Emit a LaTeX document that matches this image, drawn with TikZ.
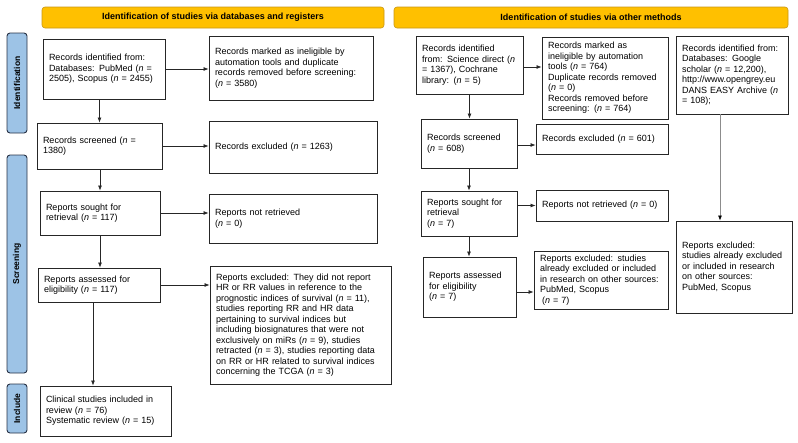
\documentclass[tikz,border=0pt]{standalone}
\usepackage{fontspec}
\setmainfont{Liberation Sans}
\usepackage{tikz}
\usetikzlibrary{arrows.meta,calc,positioning}
\definecolor{BannerGold}{RGB}{255,192,0}
\definecolor{BannerEdge}{RGB}{200,150,20}
\definecolor{PhaseBlue}{RGB}{157,195,230}
\definecolor{PhaseEdge}{RGB}{40,50,70}
\newcommand{\enn}{\textit{n}}

\begin{document}
\begin{tikzpicture}[x=1pt,y=-1pt,
  box/.style={draw=black!85,line width=0.9pt,inner xsep=6pt,inner ysep=2pt,
    align=left,font=\fontsize{9}{10.5}\selectfont},
  banner/.style={draw=BannerEdge,fill=BannerGold,rounded corners=3pt,line width=0.6pt,
    minimum height=21pt,font=\fontsize{9}{10.5}\selectfont\bfseries},
  phase/.style={draw=PhaseEdge,fill=PhaseBlue,rounded corners=3pt,line width=0.9pt,
    rotate=90,minimum height=20pt,inner sep=0pt,font=\fontsize{8.5}{10}\selectfont\bfseries},
  arr/.style={-{Latex[length=5pt,width=4pt]},line width=0.7pt,black!85}]
  \useasboundingbox (0,0) rectangle (798,442);
  % headers and phases
  \node[banner,minimum width=342pt] (hdb) at (213,17.5) {Identification of studies via databases and registers};
  \node[banner,minimum width=394pt] (hom) at (591,17.5) {Identification of studies via other methods};
  \node[phase,minimum width=100pt] (pid) at (17,83) {Identification};
  \node[phase,minimum width=218pt] (psc) at (17,264) {Screening};
  \node[phase,minimum width=49pt] (pin) at (17,408.5) {Include};
  % databases and registers
  \node[box,text width=110pt,minimum height=60pt] (idl) at (104,69)
    {Records identified from:\\Databases: PubMed (\enn{} =\\2505), Scopus (\enn{} = 2455)};
  \node[box,text width=152pt,minimum height=64pt] (dupl) at (291,68)
    {Records marked as ineligible by\\automation tools and duplicate\\records removed before screening:\\(\enn{} = 3580)};
  \node[box,text width=113pt,minimum height=46pt] (scr) at (99.5,146)
    {Records screened (\enn{} =\\1380)};
  \node[box,text width=156pt,minimum height=52pt] (excl) at (293,147)
    {Records excluded (\enn{} = 1263)};
  \node[box,text width=108pt,minimum height=44pt] (sought) at (100,213)
    {Reports sought for\\retrieval (\enn{} = 117)};
  \node[box,text width=156pt,minimum height=49pt] (notret) at (293,218.5)
    {Reports not retrieved\\(\enn{} = 0)};
  \node[box,text width=110pt,minimum height=34pt] (assess) at (99,285)
    {Reports assessed for\\eligibility (\enn{} = 117)};
  \node[box,text width=169pt,minimum height=118pt] (rexcl) at (300.5,325)
    {Reports excluded: They did not report\\HR or RR values in reference to the\\prognostic indices of survival (\enn{} = 11),\\studies reporting RR and HR data\\pertaining to survival indices but\\including biosignatures that were not\\exclusively on miRs (\enn{} = 9), studies\\retracted (\enn{} = 3), studies reporting data\\on RR or HR related to survival indices\\concerning the TCGA (\enn{} = 3)};
  \node[box,text width=119pt,minimum height=50pt] (incl) at (105.5,411)
    {Clinical studies included in\\review (\enn{} = 76)\\Systematic review (\enn{} = 15)};
  % other methods
  \node[box,text width=95pt,minimum height=58pt] (oidl) at (469.5,65)
    {Records identified\\from: Science direct (\enn\\= 1367), Cochrane\\library: (\enn{} = 5)};
  \node[box,text width=114pt,minimum height=82pt] (odupl) at (605,78)
    {Records marked as\\ineligible by automation\\tools (\enn{} = 764)\\Duplicate records removed\\(\enn{} = 0)\\Records removed before\\screening: (\enn{} = 764)};
  \node[box,text width=100pt,minimum height=78pt] (osrc) at (732,75)
    {Records identified from:\\Databases: Google\\scholar (\enn{} = 12,200),\\http://www.opengrey.eu\\DANS EASY Archive (\enn\\= 108);};
  \node[box,text width=84pt,minimum height=49pt] (oscr) at (469,143.5)
    {Records screened\\(\enn{} = 608)};
  \node[box,text width=120pt,minimum height=30pt] (oexcl) at (602,139)
    {Records excluded (\enn{} = 601)};
  \node[box,text width=84pt,minimum height=45pt] (osought) at (469,213.5)
    {Reports sought for\\retrieval\\(\enn{} = 7)};
  \node[box,text width=120pt,minimum height=31pt] (onotret) at (602,205.5)
    {Reports not retrieved (\enn{} = 0)};
  \node[box,text width=81pt,minimum height=60pt] (oassess) at (469.5,287)
    {Reports assessed\\for eligibility\\(\enn{} = 7)};
  \node[box,text width=122pt,minimum height=58pt] (orexcl) at (601,280)
    {Reports excluded: studies\\already excluded or included\\in research on other sources:\\PubMed, Scopus\\\hspace*{2pt}(\enn{} = 7)};
  \node[box,text width=104pt,minimum height=92pt] (osexcl) at (734,267)
    {Reports excluded:\\studies already excluded\\or included in research\\on other sources:\\PubMed, Scopus};
  % connectors
  \draw[arr] (scr.north |- idl.south) -- (scr.north);
  \draw[arr] (scr.south -| sought.north) -- (sought.north);
  \draw[arr] (sought.south) -- (sought.south |- assess.north);
  \draw[arr] ([xshift=-6pt]assess.south) -- ([xshift=-6pt]assess.south |- incl.north);
  \draw[arr] (idl.east) -- (idl.east -| dupl.west);
  \draw[arr] (scr.east) -- (scr.east -| excl.west);
  \draw[arr] (sought.east) -- (sought.east -| notret.west);
  \draw[arr] (assess.east) -- (assess.east -| rexcl.west);
  \draw[arr] (oidl.south) -- (oidl.south |- oscr.north);
  \draw[arr] (oscr.south) -- (oscr.south |- osought.north);
  \draw[arr] (osought.south) -- (osought.south |- oassess.north);
  \draw[arr] ([yshift=-2pt]oidl.east) -- ([yshift=-2pt]oidl.east -| odupl.west);
  \draw[arr] ([yshift=-1.5pt]oscr.east) -- ([yshift=-1.5pt]oscr.east -| oexcl.west);
  \draw[arr] (onotret.west -| osought.east) -- (onotret.west);
  \draw[arr] ([yshift=-5pt]oassess.east) -- ([yshift=-5pt]oassess.east -| orexcl.west);
  \draw[arr,black!45,-{Latex[length=5pt,width=4pt,color=black]}] ([xshift=-12pt]osrc.south) -- ([xshift=-12pt]osrc.south |- osexcl.north);
\end{tikzpicture}
\end{document}
